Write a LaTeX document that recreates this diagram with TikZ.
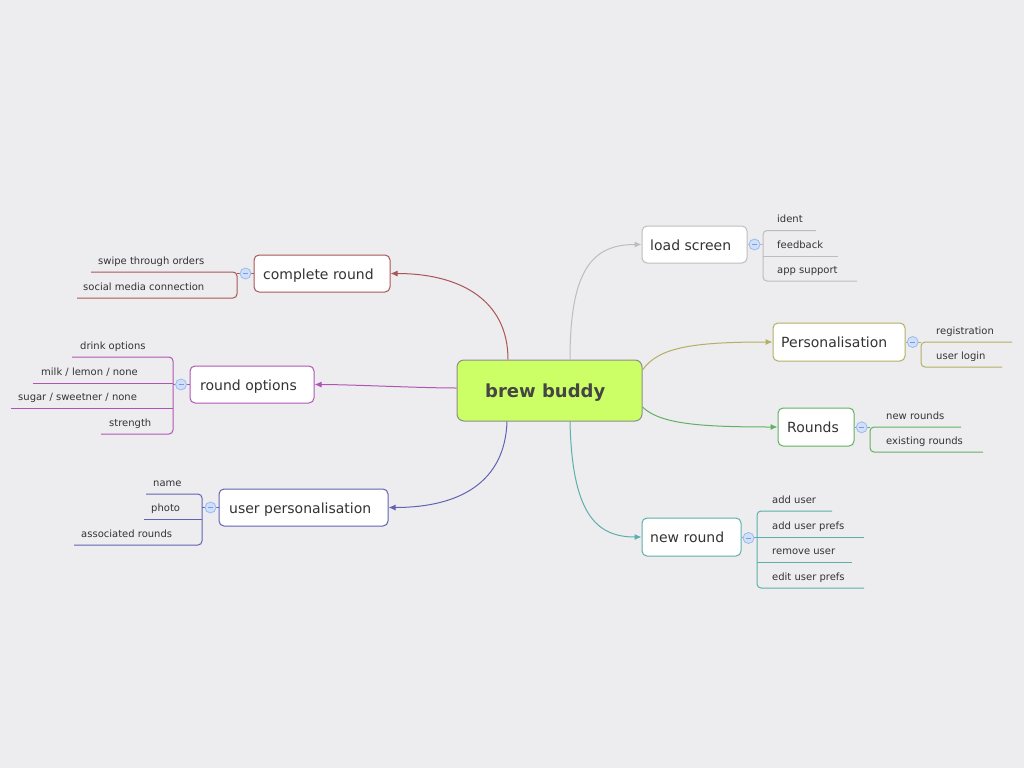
\documentclass[tikz,border=0pt]{standalone}
\usepackage{fontspec}
\setmainfont{DejaVu Sans}
\usetikzlibrary{arrows.meta}
\definecolor{bg}{HTML}{EDEDF0}
\definecolor{cgray}{HTML}{BDBDBD}
\definecolor{colive}{HTML}{B4AF64}
\definecolor{cgreen}{HTML}{62B062}
\definecolor{cteal}{HTML}{5CAFAA}
\definecolor{cred}{HTML}{AA5555}
\definecolor{cpurple}{HTML}{B055B4}
\definecolor{cblue}{HTML}{6262B2}
\definecolor{clime}{HTML}{CCFF66}
\definecolor{cborder}{HTML}{8C8C8C}
\definecolor{txt}{HTML}{333333}
\definecolor{ctxt}{HTML}{454545}
\definecolor{colfill}{HTML}{CFE0FA}
\definecolor{coldraw}{HTML}{9DBBE8}
\tikzset{
  branch/.style={draw=#1, line width=1pt, fill=white, rounded corners=5pt, inner sep=0pt},
  btext/.style={anchor=base west, inner sep=0pt, text=txt, font=\fontsize{14}{16}\selectfont},
  ctext/.style={anchor=base west, inner sep=0pt, text=txt, font=\fontsize{10}{12}\selectfont},
  conn/.style={draw=#1, line width=1pt, -{Latex[length=7pt,width=6pt]}},
  brk/.style={draw=#1, line width=1pt, rounded corners=4pt},
  ln/.style={draw=#1, line width=1pt},
  col/.style={circle, draw=coldraw, fill=colfill, line width=0.8pt, minimum size=11pt, inner sep=0pt}
}
\newcommand{\colmark}[2]{\node[col] (#1) at (#2) {}; \draw[coldraw!80!blue, line width=0.8pt] ([xshift=-2.5pt]#1.center) -- ([xshift=2.5pt]#1.center);}
\begin{document}
\begin{tikzpicture}[x=1pt,y=-1pt]
\fill[bg] (0,0) rectangle (1024,768);
\useasboundingbox (0,0) rectangle (1024,768);

% central
\node[draw=cborder, line width=1pt, fill=clime, rounded corners=7pt, minimum width=185pt, minimum height=61pt, inner sep=0pt] (c) at (549.5,390.5) {};
\node[anchor=base west, inner sep=0pt, text=ctxt, font=\fontsize{18}{20}\selectfont\bfseries] (ct) at (485,397) {brew buddy};

% branch nodes
\node[branch=cgray, minimum width=105pt, minimum height=37pt] (ls) at (694.5,244.5) {};
\node[btext] (lst) at (650,250) {load screen};
\node[branch=colive, minimum width=132pt, minimum height=38pt] (pe) at (839,342) {};
\node[btext] (pet) at (781,347.5) {Personalisation};
\node[branch=cgreen, minimum width=76pt, minimum height=38pt] (ro) at (816,427) {};
\node[btext] (rot) at (787,432.5) {Rounds};
\node[branch=cteal, minimum width=99pt, minimum height=38pt] (nr) at (691.5,537) {};
\node[btext] (nrt) at (650,542.5) {new round};
\node[branch=cred, minimum width=136pt, minimum height=37pt] (cr) at (322,273.5) {};
\node[btext] (crt) at (263,279) {complete round};
\node[branch=cpurple, minimum width=124pt, minimum height=37pt] (op) at (252,384.5) {};
\node[btext] (opt) at (200,390) {round options};
\node[branch=cblue, minimum width=169pt, minimum height=37pt] (up) at (303.5,507.5) {};
\node[btext] (upt) at (229,513) {user personalisation};

% connectors from central
\draw[conn=cred] (c.north -| 508,0) .. controls (508,300) and (460,273.5) .. (cr.east);
\draw[conn=cpurple] (c.west |- 0,388) .. controls (420,388) and (350,384.5) .. (op.east);
\draw[conn=cblue] (c.south -| 507,0) .. controls (505,482) and (460,507.5) .. (up.east);
\draw[conn=cgray] (c.north -| 570,0) .. controls (570,270) and (592,244.5) .. (ls.west);
\draw[conn=colive] (c.east |- 0,370) .. controls (658,348) and (690,342) .. (pe.west);
\draw[conn=cgreen] (c.east |- 0,407) .. controls (660,424) and (700,427) .. (ro.west);
\draw[conn=cteal] (c.south -| 570,0) .. controls (572,512) and (595,537) .. (nr.west);

% load screen children
\draw[ln=cgray] (ls.east) -- (763,244.5);
\draw[brk=cgray] (816,230.5) -- (763,230.5) -- (763,281) -- (857,281);
\draw[ln=cgray] (763,256) -- (838,256);
\node[ctext] (l1) at (777,222.5) {ident};
\node[ctext] (l2) at (777,248) {feedback};
\node[ctext] (l3) at (777,273) {app support};
\colmark{lsc}{754.5,244.5}

% Personalisation children
\draw[ln=colive] (pe.east) -- (921,342);
\draw[brk=colive] (1012,342) -- (921,342) -- (921,367) -- (1002,367);
\node[ctext] (p1) at (936,334) {registration};
\node[ctext] (p2) at (936,359) {user login};
\colmark{pec}{912.7,342}

% Rounds children
\draw[ln=cgreen] (ro.east) -- (870,427);
\draw[brk=cgreen] (961,427) -- (870,427) -- (870,452) -- (983,452);
\node[ctext] (r1) at (886,419) {new rounds};
\node[ctext] (r2) at (886,444) {existing rounds};
\colmark{roc}{861.7,427.3}

% new round children
\draw[ln=cteal] (nr.east) -- (757,537);
\draw[brk=cteal] (832,511) -- (757,511) -- (757,588) -- (864,588);
\draw[ln=cteal] (757,537) -- (864,537);
\draw[ln=cteal] (757,562.5) -- (852,562.5);
\node[ctext] (n1) at (772,503) {add user};
\node[ctext] (n2) at (772,529) {add user prefs};
\node[ctext] (n3) at (772,554.5) {remove user};
\node[ctext] (n4) at (772,580) {edit user prefs};
\colmark{nrc}{748.5,538}

% complete round children
\draw[ln=cred] (cr.west) -- (237,273.5);
\draw[brk=cred] (91,272) -- (237,272) -- (237,298) -- (77,298);
\node[ctext] (c1) at (98,264) {swipe through orders};
\node[ctext] (c2) at (83,290) {social media connection};
\colmark{crc}{245.5,273.5}

% round options children
\draw[ln=cpurple] (op.west) -- (173,384.5);
\draw[brk=cpurple] (72,357) -- (173,357) -- (173,434) -- (101,434);
\draw[ln=cpurple] (173,383) -- (33,383);
\draw[ln=cpurple] (173,408.5) -- (11,408.5);
\node[ctext] (o1) at (80,349) {drink options};
\node[ctext] (o2) at (41,375) {milk / lemon / none};
\node[ctext] (o3) at (18,400.5) {sugar / sweetner / none};
\node[ctext] (o4) at (109,426) {strength};
\colmark{opc}{181,384.5}

% user personalisation children
\draw[ln=cblue] (up.west) -- (202,507.5);
\draw[brk=cblue] (146,494) -- (202,494) -- (202,545) -- (74,545);
\draw[ln=cblue] (202,519) -- (144,519);
\node[ctext] (u1) at (153,486) {name};
\node[ctext] (u2) at (151,511) {photo};
\node[ctext] (u3) at (81,537) {associated rounds};
\colmark{upc}{210.5,507.5}
\end{tikzpicture}
\end{document}
